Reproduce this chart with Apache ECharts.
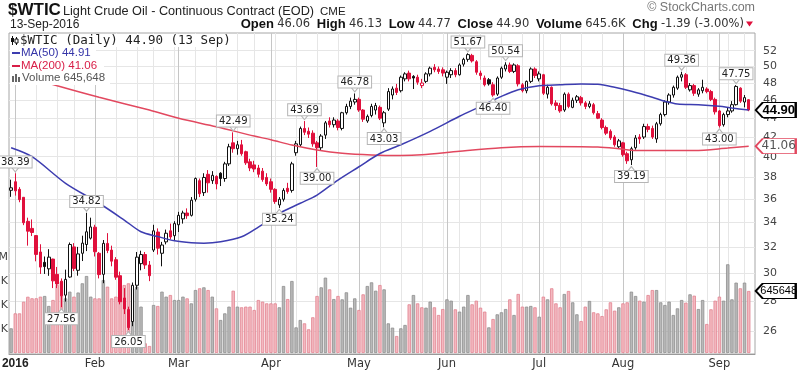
<!DOCTYPE html>
<html><head><meta charset="utf-8">
<script src="https://cdn.jsdelivr.net/npm/echarts@6/dist/echarts.min.js"></script>
<style>html,body{margin:0;padding:0;background:#fff}#c{width:800px;height:374px}</style>
</head><body><div id="c"></div>
<script>
const dates = ['2015-12-31',
'2016-01-04','2016-01-05','2016-01-06','2016-01-07','2016-01-08','2016-01-11','2016-01-12','2016-01-13','2016-01-14','2016-01-15','2016-01-19','2016-01-20','2016-01-21','2016-01-22','2016-01-25','2016-01-26','2016-01-27','2016-01-28','2016-01-29',
'2016-02-01','2016-02-02','2016-02-03','2016-02-04','2016-02-05','2016-02-08','2016-02-09','2016-02-10','2016-02-11','2016-02-12','2016-02-16','2016-02-17','2016-02-18','2016-02-19','2016-02-22','2016-02-23','2016-02-24','2016-02-25','2016-02-26','2016-02-29',
'2016-03-01','2016-03-02','2016-03-03','2016-03-04','2016-03-07','2016-03-08','2016-03-09','2016-03-10','2016-03-11','2016-03-14','2016-03-15','2016-03-16','2016-03-17','2016-03-18','2016-03-21','2016-03-22','2016-03-23','2016-03-24','2016-03-28','2016-03-29','2016-03-30','2016-03-31',
'2016-04-01','2016-04-04','2016-04-05','2016-04-06','2016-04-07','2016-04-08','2016-04-11','2016-04-12','2016-04-13','2016-04-14','2016-04-15','2016-04-18','2016-04-19','2016-04-20','2016-04-21','2016-04-22','2016-04-25','2016-04-26','2016-04-27','2016-04-28','2016-04-29',
'2016-05-02','2016-05-03','2016-05-04','2016-05-05','2016-05-06','2016-05-09','2016-05-10','2016-05-11','2016-05-12','2016-05-13','2016-05-16','2016-05-17','2016-05-18','2016-05-19','2016-05-20','2016-05-23','2016-05-24','2016-05-25','2016-05-26','2016-05-27','2016-05-31',
'2016-06-01','2016-06-02','2016-06-03','2016-06-06','2016-06-07','2016-06-08','2016-06-09','2016-06-10','2016-06-13','2016-06-14','2016-06-15','2016-06-16','2016-06-17','2016-06-20','2016-06-21','2016-06-22','2016-06-23','2016-06-24','2016-06-27','2016-06-28','2016-06-29','2016-06-30',
'2016-07-01','2016-07-05','2016-07-06','2016-07-07','2016-07-08','2016-07-11','2016-07-12','2016-07-13','2016-07-14','2016-07-15','2016-07-18','2016-07-19','2016-07-20','2016-07-21','2016-07-22','2016-07-25','2016-07-26','2016-07-27','2016-07-28','2016-07-29',
'2016-08-01','2016-08-02','2016-08-03','2016-08-04','2016-08-05','2016-08-08','2016-08-09','2016-08-10','2016-08-11','2016-08-12','2016-08-15','2016-08-16','2016-08-17','2016-08-18','2016-08-19','2016-08-22','2016-08-23','2016-08-24','2016-08-25','2016-08-26','2016-08-29','2016-08-30','2016-08-31',
'2016-09-01','2016-09-02','2016-09-06','2016-09-07','2016-09-08','2016-09-09','2016-09-12','2016-09-13'];

const open = [36.81,
37.60,36.90,36.18,34.09,33.50,32.91,31.60,30.80,30.31,31.05,29.90,29.40,28.40,29.70,32.00,30.20,31.50,32.19,32.70,
33.60,31.50,29.90,32.28,31.75,31.00,29.80,28.20,27.40,26.60,29.10,30.70,31.40,30.60,31.75,33.20,31.50,32.40,33.30,32.90,
33.80,34.30,34.80,34.60,36.00,37.70,36.60,38.30,37.70,38.10,38.40,37.90,39.30,41.40,40.80,41.20,40.50,39.50,39.20,38.90,38.60,38.00,
37.60,36.90,35.50,36.00,37.00,36.80,40.40,41.20,42.90,42.60,42.40,41.40,40.90,42.20,43.70,43.30,43.70,42.90,44.60,45.30,45.80,
46.10,44.90,43.70,44.30,44.90,45.20,43.50,45.00,46.60,47.40,47.10,48.50,49.20,48.80,48.70,47.70,48.20,49.10,49.90,49.70,49.60,
48.70,49.00,49.50,49.00,50.30,50.90,51.40,50.60,49.20,48.60,48.40,47.80,46.70,48.70,49.70,50.20,49.40,50.10,47.80,47.10,48.20,49.70,
48.50,49.00,46.70,47.50,45.70,45.40,44.90,46.70,45.20,46.00,46.30,45.70,45.30,45.50,44.50,43.80,43.00,42.60,42.00,41.00,
41.40,40.30,39.70,40.90,42.00,42.00,43.10,42.90,41.80,43.40,44.40,45.80,46.60,47.40,48.70,49.00,47.20,47.70,46.70,47.10,47.30,47.00,46.10,
44.80,43.30,44.40,44.80,45.50,47.40,45.80,46.06];

const high = [37.79,
38.39,37.10,36.19,34.40,34.25,32.94,32.21,31.25,31.82,31.08,30.45,29.60,30.25,32.35,32.30,32.00,32.90,34.82,34.40,
33.80,31.60,32.55,33.11,32.10,31.20,30.10,28.90,27.60,29.30,31.60,31.70,31.60,30.90,33.80,33.50,32.40,33.40,33.90,34.10,
34.90,35.00,35.20,36.20,38.00,37.90,38.40,38.70,38.60,38.20,38.50,39.50,41.30,42.49,41.60,41.70,40.60,39.80,39.60,39.20,38.90,38.40,
37.90,37.00,36.20,37.00,37.50,39.50,41.60,43.10,43.69,43.00,42.70,41.60,42.30,43.70,44.10,44.10,43.90,44.70,45.60,46.30,46.78,
46.30,45.00,44.40,45.60,45.70,45.40,44.80,47.40,47.60,47.90,48.90,49.30,49.50,48.95,49.00,48.50,49.30,50.00,50.30,50.00,49.90,
49.50,49.80,49.80,50.40,51.10,51.67,51.60,50.80,49.50,48.90,48.60,48.10,48.80,50.00,50.54,50.50,50.40,50.30,48.00,48.30,49.90,49.90,
49.40,49.10,47.80,47.60,46.00,45.70,46.90,46.90,46.30,46.60,46.50,45.90,45.90,45.70,44.80,44.00,43.20,42.80,42.20,41.80,
41.50,40.50,41.00,42.20,42.30,43.40,43.40,43.20,43.60,44.60,46.00,46.80,47.70,48.90,49.36,49.20,48.00,47.90,47.40,48.40,47.50,47.20,46.30,
44.90,44.60,45.20,45.90,47.75,47.50,46.60,46.13];

const low = [36.22,
36.33,35.74,33.77,32.10,32.87,30.88,29.93,29.93,29.79,28.90,28.90,27.56,27.95,29.65,30.14,29.80,30.90,31.67,32.59,
31.25,29.60,29.25,31.51,30.50,29.50,27.76,27.10,26.05,26.30,28.80,30.20,30.30,29.40,31.60,31.40,30.50,32.20,32.60,32.50,
33.20,33.90,34.30,34.50,35.80,36.20,36.30,36.60,37.40,36.90,37.20,37.60,39.10,40.40,40.20,40.10,39.20,38.60,38.50,38.00,37.60,37.20,
36.60,35.60,35.24,35.80,36.50,36.60,40.10,41.00,42.20,41.90,41.00,39.00,40.60,41.80,43.00,43.00,42.70,42.70,44.40,45.00,45.50,
44.70,43.60,43.50,44.10,44.40,43.80,43.03,44.80,46.10,46.60,46.90,48.20,48.20,47.30,47.80,47.40,48.00,48.80,49.30,49.10,48.80,
47.90,48.60,48.70,48.90,50.00,50.60,50.50,49.00,48.40,47.60,47.70,46.40,46.50,48.50,49.40,49.20,49.20,47.60,46.90,46.80,48.00,48.60,
48.20,46.60,46.20,45.40,44.90,44.60,44.70,45.10,45.10,45.70,45.40,45.00,45.10,44.40,43.90,42.80,42.20,41.70,41.00,40.80,
40.00,39.30,39.19,40.70,41.30,41.80,42.50,41.80,41.40,43.20,44.20,45.50,46.30,47.20,48.20,47.30,47.00,46.50,46.40,46.80,46.80,45.90,44.40,
43.00,43.10,44.10,44.60,45.40,45.70,45.20,44.77];

const close = [37.04,
36.76,35.97,33.97,33.27,33.16,31.41,30.44,30.48,31.20,29.42,29.20,28.35,29.53,32.19,30.34,31.45,32.30,33.22,33.62,
31.62,29.88,32.28,31.72,30.89,29.69,27.94,27.45,26.21,29.10,31.20,31.40,30.60,29.80,33.30,31.90,32.15,33.10,32.80,33.90,
34.60,34.80,34.57,35.92,37.90,36.50,38.00,37.50,38.20,37.40,37.90,39.30,41.00,40.80,41.20,40.30,39.40,38.90,38.80,38.30,37.80,37.40,
36.90,35.80,36.00,36.80,36.70,39.30,41.30,42.90,42.50,42.30,41.30,40.90,42.10,43.50,43.30,43.80,43.00,44.60,45.30,45.90,46.10,
44.90,43.90,44.20,45.30,45.40,44.00,44.60,47.00,47.30,46.90,48.70,49.10,48.50,48.60,48.10,48.00,49.10,49.80,49.60,49.40,49.20,
49.30,49.50,49.00,50.20,50.90,51.50,50.70,49.30,48.90,47.80,47.90,46.60,48.60,49.80,50.20,49.40,50.20,47.90,47.10,48.20,49.70,48.90,
49.10,46.80,47.50,45.60,45.40,44.80,46.70,45.30,46.00,46.40,45.70,45.30,45.60,44.60,44.00,43.00,42.40,41.90,41.20,41.60,
40.20,39.60,40.80,41.90,41.80,43.10,42.80,42.00,43.40,44.40,45.80,46.60,47.50,48.70,49.00,47.50,47.70,46.80,47.20,47.50,47.00,46.10,44.70,
43.20,44.40,44.80,45.50,47.60,45.90,46.30,44.90];

const prevCloseBeforeStart = 36.60;

// volume in thousands of contracts
const volumeK = [257,413,413,534,586,570,570,587,594,490,
552,708,743,569,639,587,630,726,802,587,
569,569,760,691,569,587,691,708,726,674,
691,483,101,73,500,490,639,587,604,552,
552,587,569,517,656,674,684,656,587,465,
344,413,483,649,483,476,483,483,448,552,
535,517,517,517,476,698,562,750,267,344,
309,247,372,594,684,785,663,562,594,559,
632,472,569,448,611,698,736,649,708,663,
309,264,177,257,292,507,604,517,476,472,
535,476,396,458,559,545,455,431,483,604,
507,545,472,431,267,354,403,424,458,559,
396,615,483,483,490,476,378,587,559,674,
517,476,615,646,528,403,333,483,542,424,
413,385,455,528,441,476,517,528,639,594,
545,535,604,656,656,528,500,535,396,465,
552,524,611,597,458,552,302,455,545,587,
545,924,559,733,674,733,646];

const ma50Dates = ['2015-12-31','2016-01-08','2016-01-21','2016-02-02','2016-02-10','2016-02-17','2016-02-23','2016-02-29','2016-03-04','2016-03-09','2016-03-15','2016-03-22','2016-03-29','2016-04-05','2016-04-12','2016-04-18','2016-04-25','2016-05-02','2016-05-09','2016-05-16','2016-05-25','2016-06-06','2016-06-13','2016-06-20','2016-06-24','2016-07-01','2016-07-11','2016-07-18','2016-07-22','2016-07-28','2016-08-03','2016-08-10','2016-08-15','2016-08-18','2016-08-25','2016-09-01','2016-09-07','2016-09-13'];
const ma50Vals = [40.9,40.0,37.45,35.65,34.2,33.22,32.83,32.49,32.33,32.3,32.41,32.81,33.61,34.77,35.65,36.38,37.76,39.02,40.32,41.2,42.59,44.21,45.31,46.45,47.22,47.68,47.8,47.89,47.85,47.5,47.03,46.34,45.88,45.57,45.49,45.31,45.12,44.91];

const ma200Dates = ['2015-12-31','2016-01-19','2016-02-02','2016-02-19','2016-03-01','2016-03-14','2016-03-28','2016-04-01','2016-04-08','2016-04-18','2016-04-26','2016-05-05','2016-05-16','2016-05-23','2016-06-06','2016-06-20','2016-07-01','2016-07-22','2016-07-29','2016-08-04','2016-08-24','2016-09-06','2016-09-13'];
const ma200Vals = [49.3,47.68,46.34,44.9,43.99,43.08,42.1,41.72,41.17,40.67,40.34,40.17,40.12,40.19,40.55,40.9,41.02,40.97,40.8,40.62,40.62,40.87,41.06];

const highNoteDates = ['2016-01-04','2016-01-28','2016-03-18','2016-04-13','2016-04-29','2016-06-08','2016-06-21','2016-08-19','2016-09-08'];
const highNoteVals = [38.39,34.82,42.49,43.69,46.78,51.67,50.54,49.36,47.75];
const lowNoteDates = ['2016-01-20','2016-02-11','2016-04-05','2016-04-18','2016-05-10','2016-06-16','2016-08-03','2016-09-01'];
const lowNoteVals = [27.56,26.05,35.24,39.00,43.03,46.40,39.19,43.00];

const priceTicks = [26,28,30,32,34,36,38,40,42,44,46,48,50,52];
const volumeTicksK = [250,500,750,1000];
const lastClose = 44.90, lastMa50 = 44.91, lastMa200 = 41.06, lastVolumeK = 645.648;

// ---------- build ----------
const cats = dates.concat(['']);
const monthNames = ['Jan','Feb','Mar','Apr','May','Jun','Jul','Aug','Sep','Oct','Nov','Dec'];
const monthStart = new Set(), weekStart = new Set();
for (let k = 1; k < dates.length; k++) {
  if (dates[k].slice(5,7) !== dates[k-1].slice(5,7)) monthStart.add(k);
  const d = new Date(dates[k] + 'T00:00:00Z'), p = new Date(dates[k-1] + 'T00:00:00Z');
  if (d.getUTCDay() < p.getUTCDay() || (d - p) >= 7 * 864e5) weekStart.add(k);
}
const RED = '#e0103c', BLACK = '#111';
const isDown = close.map((c, k) => c < (k === 0 ? prevCloseBeforeStart : close[k-1]));
const candleData = dates.map((d, k) => {
  const stroke = isDown[k] ? RED : BLACK;
  const fill = close[k] > open[k] ? '#ffffff' : stroke;
  return { value: [open[k], close[k], low[k], high[k]],
    itemStyle: { color: fill, color0: fill, borderColor: stroke, borderColor0: stroke } };
});
const volData = volumeK.map((v, k) => ({ value: v, itemStyle: {
  color: isDown[k] ? '#f3b9c0' : '#b9b9b9', borderColor: isDown[k] ? '#e28391' : '#8e8e8e', borderWidth: 0.8 } }));

const noteLabel = { show: true, color: '#222', fontSize: 10, fontFamily: 'DejaVu Sans',
  backgroundColor: '#ffffff', borderColor: '#b5b5b5', borderWidth: 1, padding: [1, 2, 0, 2], distance: -1 };
const notes = [];
highNoteDates.forEach((d, i) => notes.push({ coord: [d, highNoteVals[i]], value: highNoteVals[i],
  symbol: 'path://M0,0L10,0L5,7Z', symbolSize: [8, 5], symbolOffset: [0, -4],
  itemStyle: { color: '#fff', borderColor: '#b5b5b5', borderWidth: 1 },
  label: Object.assign({}, noteLabel, { position: 'top', formatter: highNoteVals[i].toFixed(2) }) }));
lowNoteDates.forEach((d, i) => notes.push({ coord: [d, lowNoteVals[i]], value: lowNoteVals[i],
  symbol: 'path://M5,0L10,7L0,7Z', symbolSize: [8, 5], symbolOffset: [0, 4],
  itemStyle: { color: '#fff', borderColor: '#b5b5b5', borderWidth: 1 },
  label: Object.assign({}, noteLabel, { position: 'bottom', formatter: lowNoteVals[i].toFixed(2) }) }));
const lastDate = dates[dates.length - 1];
function tag(val, text, border, txtColor, font) {
  return { coord: [lastDate, val], value: val, symbol: 'path://M0,7L7,0L40,0L40,14L7,14Z',
    symbolSize: [40, 15], symbolOffset: [27, 0], symbolKeepAspect: false,
    itemStyle: { color: '#fff', borderColor: border, borderWidth: 1.5 },
    label: Object.assign({ show: true, position: 'inside', offset: [3, 0], formatter: text, color: txtColor }, font) };
}
notes.push(tag(lastClose, lastClose.toFixed(2), '#000', '#000', { fontSize: 13, fontWeight: 'bold', fontFamily: 'Liberation Sans' }));

const option = {
  animation: false,
  backgroundColor: '#fff',
  grid: [
    { left: 9, right: 45, top: 33, bottom: 20, show: true, borderColor: '#a6a6a6', borderWidth: 1, outerBoundsMode: 'none', containLabel: false },
    { left: 9, right: 45, top: 65, bottom: 21, outerBoundsMode: 'none', containLabel: false }
  ],
  xAxis: [
    { type: 'category', gridIndex: 0, data: cats, boundaryGap: true,
      axisLine: { show: true, lineStyle: { color: '#999' } }, axisTick: { show: false },
      axisLabel: { interval: (i) => monthStart.has(i), margin: 4, color: '#333', fontSize: 11.5, fontFamily: 'DejaVu Sans',
        formatter: (v) => { if (!v) return ''; const m = +v.slice(5,7); return m === 1 ? '{y|' + v.slice(0,4) + '}' : monthNames[m-1]; },
        rich: { y: { fontWeight: 'bold', fontSize: 12, fontFamily: 'Liberation Sans', color: '#222' } } },
      splitLine: { show: true, interval: (i) => weekStart.has(i), alignWithLabel: true, lineStyle: { color: '#e6e6e6', width: 1 } } },
    { type: 'category', gridIndex: 0, data: cats, boundaryGap: true, position: 'top',
      axisLine: { show: false }, axisTick: { show: false }, axisLabel: { show: false },
      splitLine: { show: true, interval: (i) => monthStart.has(i), alignWithLabel: true, lineStyle: { color: '#c6c6c6', width: 1 } } },
    { type: 'category', gridIndex: 1, data: cats, boundaryGap: true, show: false }
  ],
  yAxis: [
    { type: 'log', logBase: 10, gridIndex: 0, position: 'right', min: 24.55, max: 54.33,
      axisLine: { show: false }, axisTick: { show: false, customValues: priceTicks },
      axisLabel: { customValues: priceTicks, margin: 8, color: '#444', fontSize: 11, fontFamily: 'DejaVu Sans' },
      splitLine: { show: true, lineStyle: { color: '#e6e6e6', width: 1 } } },
    { type: 'value', gridIndex: 1, position: 'left', min: 0, max: 3000, interval: 250,
      axisLine: { show: false }, axisTick: { show: false }, splitLine: { show: false },
      axisLabel: { margin: 1, color: '#444', fontSize: 11, fontFamily: 'DejaVu Sans',
        formatter: (v) => volumeTicksK.indexOf(v) < 0 ? '' : (v >= 1000 ? (v/1000).toFixed(2) + 'M' : v + 'K') } }
  ],
  series: [
    { type: 'bar', name: 'Volume', xAxisIndex: 2, yAxisIndex: 1, data: volData, barWidth: '80%', z: 1,
      markPoint: { z: 20, data: [tag(lastVolumeK, '645648', '#000', '#000', { fontSize: 11, fontFamily: 'Liberation Sans' })] } },
    { type: 'candlestick', name: '$WTIC', xAxisIndex: 0, yAxisIndex: 0, data: candleData, barWidth: 3, z: 3,
      itemStyle: { borderWidth: 1 },
      markPoint: { z: 20, data: notes } },
    { type: 'line', name: 'MA(200)', xAxisIndex: 0, yAxisIndex: 0, z: 4, showSymbol: false, smooth: 0.3,
      data: ma200Dates.map((d, i) => [d, ma200Vals[i]]), lineStyle: { color: '#e2485f', width: 1.5 },
      markPoint: { z: 20, data: [tag(lastMa200, lastMa200.toFixed(2), '#e2485f', '#555', { fontSize: 12, fontFamily: 'DejaVu Sans' })] } },
    { type: 'line', name: 'MA(50)', xAxisIndex: 0, yAxisIndex: 0, z: 4, showSymbol: false, smooth: 0.3,
      data: ma50Dates.map((d, i) => [d, ma50Vals[i]]), lineStyle: { color: '#3d3db0', width: 1.5 } }
  ],
  graphic: [
    { type: 'text', x: 8, y: 10, z: 100, style: { text: '$WTIC', font: 'bold 17px "Liberation Sans"', fill: '#111', textVerticalAlign: 'middle' } },
    { type: 'text', x: 63, y: 11, z: 100, style: { text: 'Light Crude Oil - Continuous Contract (EOD)', font: '12.7px "Liberation Sans"', fill: '#222', textVerticalAlign: 'middle' } },
    { type: 'text', x: 320, y: 12, z: 100, style: { text: 'CME', font: '11.5px "Liberation Sans"', fill: '#222', textVerticalAlign: 'middle' } },
    { type: 'text', x: 755, y: 8, z: 100, style: { text: '© StockCharts.com', font: '12.5px "Liberation Sans"', fill: '#777', textAlign: 'right', textVerticalAlign: 'middle' } },
    { type: 'text', x: 10, y: 24.5, z: 100, style: { text: '13-Sep-2016', font: '12px "Liberation Sans"', fill: '#222', textVerticalAlign: 'middle' } },
    { type: 'text', x: 744, y: 24.5, z: 100, style: {
      text: '{b|Open} {v|46.06}  {b|High} {v|46.13}  {b|Low} {v|44.77}  {b|Close} {v|44.90}  {b|Volume} {v|645.6K}  {b|Chg} {v|-1.39 (-3.00%)}',
      textAlign: 'right', textVerticalAlign: 'middle',
      rich: { b: { font: 'bold 13px "Liberation Sans"', fill: '#111' }, v: { font: '11.5px "DejaVu Sans"', fill: '#333' } } } },
    { type: 'polygon', z: 100, shape: { points: [[746, 21.5], [753, 21.5], [749.5, 26.5]] }, style: { fill: RED } },
    // in-chart legend
    { type: 'rect', z: 99, shape: { x: 10, y: 34, width: 222, height: 13 }, style: { fill: '#fff' } },
    { type: 'rect', z: 99, shape: { x: 10, y: 47, width: 86, height: 12 }, style: { fill: '#fff' } },
    { type: 'rect', z: 99, shape: { x: 10, y: 59, width: 94, height: 13 }, style: { fill: '#fff' } },
    { type: 'rect', z: 99, shape: { x: 10, y: 72, width: 100, height: 13 }, style: { fill: '#fff' } },
    { type: 'line', z: 100, shape: { x1: 12.5, y1: 36, x2: 12.5, y2: 45 }, style: { stroke: '#111', lineWidth: 1 } },
    { type: 'rect', z: 100, shape: { x: 11, y: 38, width: 3, height: 4 }, style: { fill: '#111' } },
    { type: 'line', z: 100, shape: { x1: 16.5, y1: 37, x2: 16.5, y2: 45 }, style: { stroke: '#111', lineWidth: 1 } },
    { type: 'rect', z: 100, shape: { x: 15, y: 39, width: 3, height: 4 }, style: { fill: '#fff', stroke: '#111', lineWidth: 1 } },
    { type: 'text', x: 20, y: 41, z: 100, style: { text: '$WTIC (Daily) 44.90 (13 Sep)', font: '12.5px "DejaVu Sans Mono"', fill: '#222', textVerticalAlign: 'middle' } },
    { type: 'line', z: 100, shape: { x1: 12, y1: 53, x2: 20, y2: 53 }, style: { stroke: '#3d3db0', lineWidth: 2 } },
    { type: 'text', x: 21, y: 53, z: 100, style: { text: 'MA(50) 44.91', font: '11.5px "Liberation Sans"', fill: '#3535a8', textVerticalAlign: 'middle' } },
    { type: 'line', z: 100, shape: { x1: 12, y1: 66, x2: 20, y2: 66 }, style: { stroke: '#d81e47', lineWidth: 2 } },
    { type: 'text', x: 21, y: 66, z: 100, style: { text: 'MA(200) 41.06', font: '11.5px "Liberation Sans"', fill: '#d81e47', textVerticalAlign: 'middle' } },
    { type: 'rect', z: 100, shape: { x: 12, y: 76, width: 2, height: 6 }, style: { fill: '#666' } },
    { type: 'rect', z: 100, shape: { x: 15, y: 74, width: 2, height: 8 }, style: { fill: '#666' } },
    { type: 'rect', z: 100, shape: { x: 18, y: 77, width: 2, height: 5 }, style: { fill: '#666' } },
    { type: 'text', x: 22, y: 78, z: 100, style: { text: 'Volume 645,648', font: '11.5px "Liberation Sans"', fill: '#555', textVerticalAlign: 'middle' } }
  ]
};
const chart = echarts.init(document.getElementById('c'), null, { renderer: 'canvas', width: 800, height: 374 });
chart.setOption(option);
</script></body></html>
